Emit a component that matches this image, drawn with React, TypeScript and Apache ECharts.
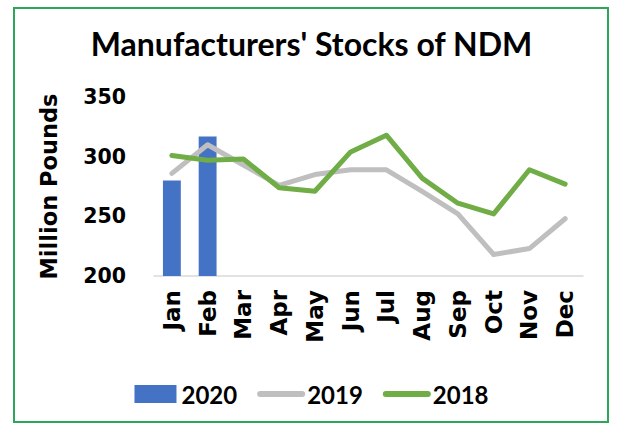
import React, { useEffect, useRef } from "react";
import * as echarts from "echarts";

const months = ["Jan", "Feb", "Mar", "Apr", "May", "Jun", "Jul", "Aug", "Sep", "Oct", "Nov", "Dec"];
const s2020: (number | null)[] = [280, 317, null, null, null, null, null, null, null, null, null, null];
const s2019 = [286, 310, 293, 276, 285, 289, 289, 271, 252, 218, 223, 248];
const s2018 = [301, 297, 298, 274, 271, 304, 318, 282, 261, 252, 289, 277];
const yTicks = { min: 200, max: 350, interval: 50 };

const FONT = "Lato";
const WIDE = "DejaVu Sans";

export default function App() {
  const ref = useRef<HTMLDivElement>(null);
  useEffect(() => {
    const chart = echarts.init(ref.current!, null, { renderer: "svg" });
    chart.setOption({
      animation: false,
      backgroundColor: "#ffffff",
      textStyle: { fontFamily: FONT },
      title: {
        text: "Manufacturers' Stocks of NDM",
        left: "center",
        top: 22,
        textStyle: { fontFamily: FONT, fontWeight: "bold", fontSize: 32, color: "#000" },
      },
      graphic: [
        {
          type: "rect",
          shape: { x: 14, y: 8, width: 594, height: 414 },
          style: { fill: "none", stroke: "#2DA55A", lineWidth: 2 },
          silent: true,
        },
      ],
      grid: { left: 154, right: 40, top: 97, bottom: 154, containLabel: false },
      legend: {
        top: 377,
        left: "center",
        itemWidth: 42,
        itemHeight: 18,
        itemGap: 20,
        textStyle: { fontFamily: FONT, fontWeight: "bold", fontSize: 24, color: "#000" },
        data: [
          { name: "2020", icon: "rect" },
          { name: "2019", itemStyle: { opacity: 0 }, lineStyle: { width: 6, cap: "round" } },
          { name: "2018", itemStyle: { opacity: 0 }, lineStyle: { width: 6, cap: "round" } },
        ],
      },
      xAxis: {
        type: "category",
        data: months,
        axisTick: { show: false },
        axisLine: { lineStyle: { color: "#D9D9D9", width: 1.5 } },
        axisLabel: {
          rotate: 90,
          margin: 14,
          fontFamily: WIDE,
          fontWeight: "bold",
          fontSize: 23,
          color: "#000",
          interval: 0,
        },
      },
      yAxis: {
        type: "value",
        min: yTicks.min,
        max: yTicks.max,
        interval: yTicks.interval,
        name: "Million Pounds",
        nameLocation: "middle",
        nameGap: 94,
        nameTextStyle: { fontFamily: WIDE, fontWeight: "bold", fontSize: 22.5, color: "#000" },
        splitLine: { show: false },
        axisLine: { show: false },
        axisTick: { show: false },
        axisLabel: { margin: 28, fontFamily: WIDE, fontWeight: "bold", fontSize: 20.5, color: "#000" },
      },
      series: [
        {
          name: "2020",
          type: "bar",
          data: s2020,
          barWidth: "50%",
          itemStyle: { color: "#4472C4" },
        },
        {
          name: "2019",
          type: "line",
          data: s2019,
          symbol: "none",
          lineStyle: { color: "#BFBFBF", width: 5, cap: "round", join: "round" },
          itemStyle: { color: "#BFBFBF" },
        },
        {
          name: "2018",
          type: "line",
          data: s2018,
          symbol: "none",
          lineStyle: { color: "#70AD47", width: 5, cap: "round", join: "round" },
          itemStyle: { color: "#70AD47" },
        },
      ],
    });
    return () => chart.dispose();
  }, []);
  return (
    <div
      ref={ref}
      style={{ position: "fixed", left: 0, top: 0, width: 623, height: 430, background: "#fff" }}
    />
  );
}
